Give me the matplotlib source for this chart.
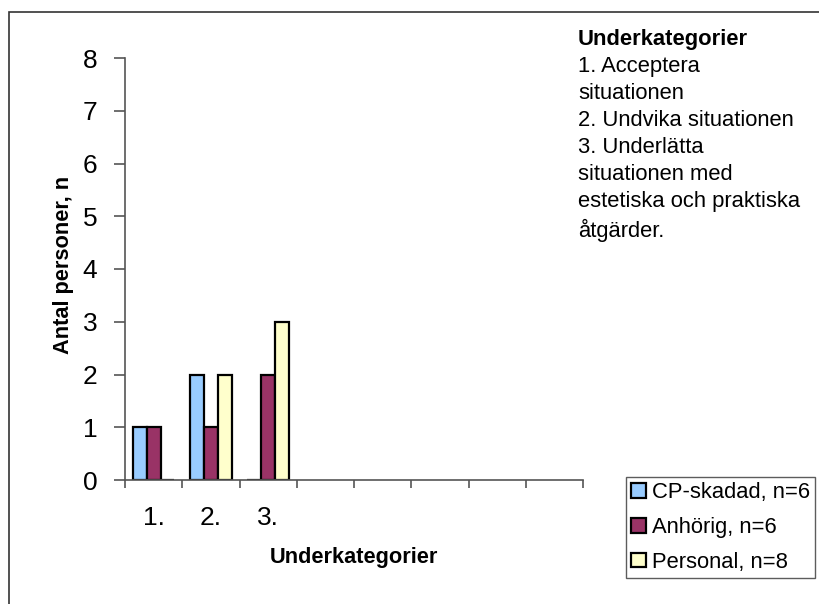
import matplotlib.pyplot as plt
import numpy as np
from matplotlib.patches import Rectangle

plt.rcParams['font.family'] = ['Liberation Sans', 'DejaVu Sans']

# data
kategorier = ["1.", "2.", "3."]
antal_platser = 8
serier = ["CP-skadad, n=6", "Anhörig, n=6", "Personal, n=8"]
cp_skadad = [1, 2, 0]
anhorig = [1, 1, 2]
personal = [0, 2, 3]
farger = ["#99CCFF", "#993366", "#FFFFCC"]
info_rader = ["1. Acceptera", "situationen", "2. Undvika situationen",
              "3. Underlätta", "situationen med", "estetiska och praktiska", "åtgärder."]

fig = plt.figure(figsize=(8.19, 6.04), dpi=100)
W, H = 819, 604

# ram runt hela bilden (fortsatter utanfor hoger/nederkant)
fig.patches.append(Rectangle((9 / W, -0.1), 1.2, 1 - 12 / H + 0.1, transform=fig.transFigure,
                             fill=False, edgecolor="#333333", linewidth=1.2))

ax = fig.add_axes([125 / W, 1 - 480 / H, (583 - 125) / W, (480 - 58) / H])

bredd = 0.243
x = np.arange(len(kategorier)) + 0.5
for i, (namn, varden) in enumerate(zip(serier, [cp_skadad, anhorig, personal])):
    ax.bar(x + (i - 1) * bredd, varden, bredd, color=farger[i], edgecolor="black",
           linewidth=1.6, label=namn)

ax.set_xlim(0, antal_platser)
ax.set_ylim(0, 8)
ax.set_yticks(range(0, 9))
ax.set_xticks(range(0, antal_platser + 1))
ax.set_xticklabels([])
ax.set_xticks(x, minor=True)
ax.set_xticklabels(kategorier, minor=True)
ax.tick_params(axis="x", which="minor", length=0, pad=19, labelsize=19)
ax.tick_params(axis="x", which="major", length=6, color="#555555", width=1.2)
ax.tick_params(axis="y", length=8, color="#555555", width=1.2, labelsize=19, pad=12)

for s in ["top", "right"]:
    ax.spines[s].set_visible(False)
for s in ["left", "bottom"]:
    ax.spines[s].set_color("#555555")
    ax.spines[s].set_linewidth(1.2)

fig.text(63 / W, 1 - 265 / H, "Antal personer, n", rotation=90, ha="center", va="center",
         fontsize=15.7, fontweight="bold")
fig.text(354 / W, 1 - 558 / H, "Underkategorier", ha="center", va="center",
         fontsize=15.7, fontweight="bold")

# forklarande text
fig.text(578 / W, 1 - 29 / H, "Underkategorier", ha="left", va="top", fontsize=15.8,
         fontweight="bold")
for k, rad in enumerate(info_rader):
    fig.text(578 / W, 1 - (56 + k * 27.1) / H, rad, ha="left", va="top", fontsize=15.8)

leg = fig.legend(loc="upper left", bbox_to_anchor=(626 / W, 1 - 477 / H), fontsize=15.8,
                 frameon=True, fancybox=False, edgecolor="#333333", handlelength=0.65,
                 handleheight=0.65, handletextpad=0.27, labelspacing=0.62, borderpad=0.25,
                 borderaxespad=0)
leg.get_frame().set_linewidth(1.0)

fig.savefig("out.png", dpi=100)
